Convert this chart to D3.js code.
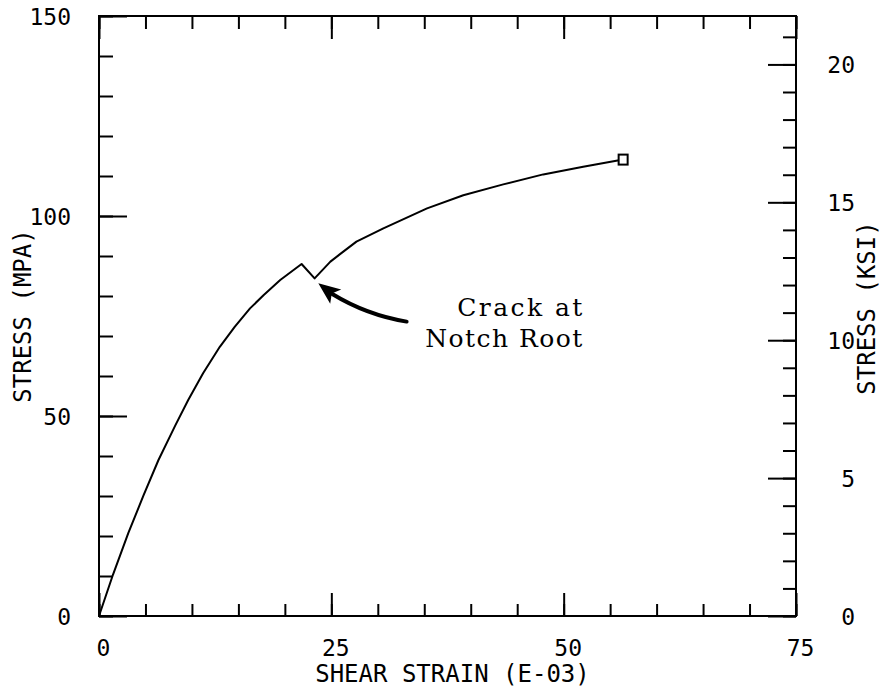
<!DOCTYPE html>
<html>
<head>
<meta charset="utf-8">
<script src="https://cdn.jsdelivr.net/npm/d3@7"></script>
<style>
  body { margin: 0; background: #fff; }
  text { fill: #000; }
</style>
</head>
<body>
<svg id="chart" width="881" height="690"></svg>
<script>
// shear strain (E-03) vs stress (MPa)
var strain = [0, 1.5, 3.15, 4.8, 6.4, 8.2, 9.6, 11.2, 13.0, 14.6, 16.25, 17.7, 19.5, 21.8, 23.2, 24.9, 25.9, 27.7, 30.6, 35.3, 39.2, 43.5, 47.8, 52.1, 56.4]
var stress = [0, 10.3, 20.7, 30.2, 39, 47.6, 54, 60.7, 67.3, 72.3, 76.9, 80.2, 84.0, 88, 84.4, 88.6, 90.4, 93.6, 96.9, 101.9, 105.2, 107.9, 110.4, 112.3, 114.1]

var xMajor = [0, 25, 50, 75]
var xMinor = d3.range(0, 76, 5)
var yMajor = [0, 50, 100, 150]
var yMinor = d3.range(0, 151, 10)
var ksiMajor = [0, 5, 10, 15, 20]
var ksiMinor = d3.range(0, 22, 1)
var MPA_PER_KSI = 6.894757

// annotation: arrow (tail, control, end, tip) and text, in data units
var arrowPts = [[33.1, 73.6], [28.8, 75.25], [25.1, 80.5], [23.6, 83.2]]
var noteLines = ['Crack at', 'Notch Root']
var noteAt = [[52, 75], [52, 67.25]]

var svg = d3.select('#chart')
var L = 99, R = 796, T = 16, B = 616

var x = d3.scaleLinear().domain([0, 75]).range([L, R])
var y = d3.scaleLinear().domain([0, 150]).range([B, T])
var yk = d3.scaleLinear().domain([0, 150 / MPA_PER_KSI]).range([B, T])

var tickFont = '"DejaVu Sans Mono", monospace'

function styleAxis (g) {
  g.select('.domain').remove()
  g.selectAll('line').attr('stroke', '#000').attr('stroke-width', 2)
  g.selectAll('text').attr('font-family', tickFont).attr('font-size', '23px').attr('fill', '#000')
}

// bottom
svg.append('g').attr('transform', 'translate(0,' + B + ')')
  .call(d3.axisBottom(x).tickValues(xMinor).tickSize(-12).tickFormat(''))
  .call(styleAxis)
svg.append('g').attr('transform', 'translate(0,' + B + ')')
  .call(d3.axisBottom(x).tickValues(xMajor).tickSize(-23).tickPadding(24).tickFormat(d3.format('d')))
  .call(styleAxis)
  .selectAll('text').attr('dx', 4)

// top
svg.append('g').attr('transform', 'translate(0,' + T + ')')
  .call(d3.axisTop(x).tickValues(xMinor).tickSize(-13).tickFormat(''))
  .call(styleAxis)
svg.append('g').attr('transform', 'translate(0,' + T + ')')
  .call(d3.axisTop(x).tickValues(xMajor).tickSize(-23).tickFormat(''))
  .call(styleAxis)

// left (MPa)
svg.append('g').attr('transform', 'translate(' + L + ',0)')
  .call(d3.axisLeft(y).tickValues(yMinor).tickSize(-14).tickFormat(''))
  .call(styleAxis)
svg.append('g').attr('transform', 'translate(' + L + ',0)')
  .call(d3.axisLeft(y).tickValues(yMajor).tickSize(-28).tickPadding(28).tickFormat(d3.format('d')))
  .call(styleAxis)
  .selectAll('text').attr('dy', '0.36em')

// right (KSI)
svg.append('g').attr('transform', 'translate(' + R + ',0)')
  .call(d3.axisRight(yk).tickValues(ksiMinor).tickSize(-13).tickFormat(''))
  .call(styleAxis)
svg.append('g').attr('transform', 'translate(' + R + ',0)')
  .call(d3.axisRight(yk).tickValues(ksiMajor).tickSize(-28).tickFormat(d3.format('d')))
  .call(styleAxis)
  .selectAll('text').attr('text-anchor', 'end').attr('x', 59).attr('dy', '0.36em')

// frame
svg.append('rect')
  .attr('x', L).attr('y', T)
  .attr('width', R - L).attr('height', B - T)
  .attr('fill', 'none').attr('stroke', '#000').attr('stroke-width', 2)

// titles
svg.append('text')
  .attr('x', (L + R) / 2 + 5).attr('y', 682)
  .attr('text-anchor', 'middle')
  .attr('font-family', tickFont).attr('font-size', '24px')
  .text('SHEAR STRAIN (E-03)')

svg.append('text')
  .attr('transform', 'translate(31,' + ((T + B) / 2) + ') rotate(-90)')
  .attr('text-anchor', 'middle')
  .attr('font-family', tickFont).attr('font-size', '24px')
  .text('STRESS (MPA)')

svg.append('text')
  .attr('transform', 'translate(875,' + ((T + B) / 2 - 8) + ') rotate(-90)')
  .attr('text-anchor', 'middle')
  .attr('font-family', tickFont).attr('font-size', '24px')
  .text('STRESS (KSI)')

// curve
var pts = strain.map(function (s, i) { return [s, stress[i]] })
var line = d3.line()
  .x(function (d) { return x(d[0]) })
  .y(function (d) { return y(d[1]) })

svg.append('path')
  .datum(pts)
  .attr('d', line)
  .attr('fill', 'none')
  .attr('stroke', '#000')
  .attr('stroke-width', 2)
  .attr('stroke-linejoin', 'round')

// end marker
var last = pts[pts.length - 1]
svg.append('rect')
  .attr('x', x(last[0]) - 4.5).attr('y', y(last[1]) - 5)
  .attr('width', 9).attr('height', 10)
  .attr('fill', '#fff').attr('stroke', '#000').attr('stroke-width', 2)

// arrow
var p = arrowPts.map(function (d) { return [x(d[0]), y(d[1])] })
var shaft = d3.path()
shaft.moveTo(p[0][0], p[0][1])
shaft.quadraticCurveTo(p[1][0], p[1][1], p[2][0], p[2][1])
svg.append('path')
  .attr('d', shaft.toString())
  .attr('fill', 'none').attr('stroke', '#000').attr('stroke-width', 4)
  .attr('stroke-linecap', 'round')

var tip = p[3]
var dx = tip[0] - p[2][0], dy = tip[1] - p[2][1]
var len = Math.sqrt(dx * dx + dy * dy)
var ux = dx / len, uy = dy / len
var headLen = 22, headHalf = 9
var bx = tip[0] - ux * headLen, by = tip[1] - uy * headLen
svg.append('path')
  .attr('d', 'M' + tip[0] + ',' + tip[1] +
    'L' + (bx - uy * headHalf) + ',' + (by + ux * headHalf) +
    'L' + (bx + ux * 5) + ',' + (by + uy * 5) +
    'L' + (bx + uy * headHalf) + ',' + (by - ux * headHalf) + 'Z')
  .attr('fill', '#000')

// note text (typewriter-like slab serif)
var noteWidth = [125, 157]
svg.selectAll('text.note')
  .data(noteLines)
  .enter().append('text')
  .attr('class', 'note')
  .attr('x', function (d, i) { return x(noteAt[i][0]) - noteWidth[i] })
  .attr('y', function (d, i) { return y(noteAt[i][1]) })
  .attr('textLength', function (d, i) { return noteWidth[i] })
  .attr('lengthAdjust', 'spacing')
  .attr('font-family', '"DejaVu Serif", serif')
  .attr('font-size', '25px')
  .text(function (d) { return d })
</script>
</body>
</html>
